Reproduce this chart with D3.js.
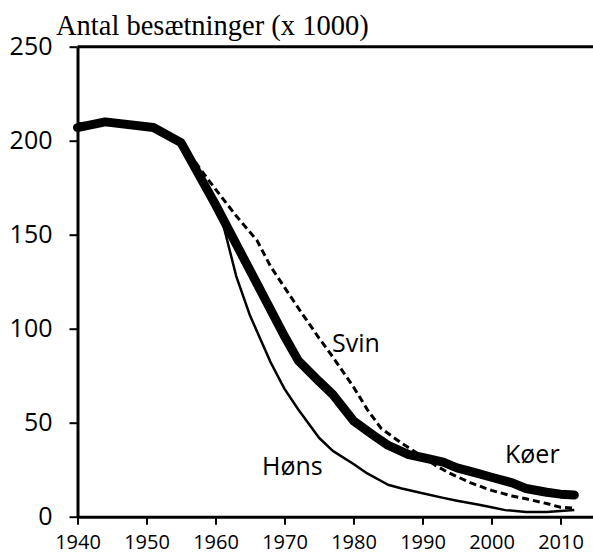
<!DOCTYPE html>
<html lang="da">
<head>
<meta charset="UTF-8">
<title>Antal besætninger</title>
<script src="https://d3js.org/d3.v7.min.js"></script>
<style>
  body { margin: 0; background: #fff; }
  svg { display: block; }
</style>
</head>
<body>
<svg id="chart" width="593" height="555"></svg>
<script>
// data (thousands of herds)
const koerYears = [1940, 1944, 1951, 1955, 1960, 1965, 1970, 1972, 1975, 1977, 1980, 1983, 1985, 1988, 1990, 1993, 1995, 1998, 2000, 2003, 2005, 2008, 2010, 2012];
const koerVals  = [207, 210, 207, 199, 166, 131, 96, 83, 72, 65, 51, 43, 38, 33, 31.5, 29, 26, 23, 21, 18, 15, 13, 12, 11.5];

const svinYears = [1940, 1944, 1951, 1955, 1959, 1963, 1966, 1968, 1970, 1972, 1975, 1977, 1980, 1982, 1984, 1987, 1990, 1992, 1994, 1997, 2000, 2003, 2005, 2008, 2010, 2012];
const svinVals  = [209, 210, 207, 199, 179, 160, 147, 133, 122, 111, 95, 85, 69, 57, 47, 39, 32, 27, 23, 18, 14, 11, 9.5, 7, 5, 4.5];

const honsYears = [1940, 1944, 1951, 1955, 1960, 1961, 1963, 1965, 1968, 1970, 1972, 1975, 1977, 1980, 1982, 1985, 1987, 1990, 1993, 1995, 1998, 2000, 2002, 2005, 2008, 2010, 2012];
const honsVals  = [207, 210, 207, 199, 166, 157, 128, 107, 82, 68, 57, 42, 35, 28, 23, 17, 15, 12.5, 10, 8.5, 6.5, 5, 3.5, 2.5, 2.5, 3, 3.5];

const xTicks = [1940, 1950, 1960, 1970, 1980, 1990, 2000, 2010];
const yTicks = [0, 50, 100, 150, 200, 250];

const svg = d3.select("#chart");

const x = d3.scaleLinear().domain([1940, 2015]).range([77.5, 595]);
const y = d3.scaleLinear().domain([0, 250]).range([516.7, 46.7]);

const sans = "'Open Sans', 'Noto Sans', sans-serif";

// top frame line
svg.append("line")
    .attr("x1", x(1940)).attr("x2", 593)
    .attr("y1", y(250)).attr("y2", y(250))
    .attr("stroke", "#000").attr("stroke-width", 3);

// y axis
const yAxis = svg.append("g")
    .attr("transform", `translate(${x(1940)},0)`)
    .call(d3.axisLeft(y).tickValues(yTicks).tickSize(8).tickSizeOuter(0).tickPadding(17));
yAxis.select(".domain").attr("stroke-width", 3);
yAxis.selectAll(".tick line").attr("stroke-width", 2);
yAxis.selectAll("text")
    .attr("font-family", sans).attr("font-size", 25).attr("fill", "#000");

// x axis
const xAxis = svg.append("g")
    .attr("transform", `translate(0,${y(0)})`)
    .call(d3.axisBottom(x).tickValues(xTicks).tickFormat(d3.format("d")).tickSize(8).tickSizeOuter(0).tickPadding(10));
xAxis.select(".domain").attr("stroke-width", 3);
xAxis.selectAll(".tick line").attr("stroke-width", 2);
xAxis.selectAll("text")
    .attr("font-family", sans).attr("font-size", 20).attr("fill", "#000");

const line = d3.line()
    .x(d => x(d[0]))
    .y(d => y(d[1]));

svg.append("path")
    .datum(d3.zip(honsYears, honsVals))
    .attr("d", line)
    .attr("fill", "none").attr("stroke", "#000")
    .attr("stroke-width", 2.5).attr("stroke-linejoin", "round");

svg.append("path")
    .datum(d3.zip(svinYears, svinVals))
    .attr("d", line)
    .attr("fill", "none").attr("stroke", "#000")
    .attr("stroke-width", 3).attr("stroke-dasharray", "7,4");

svg.append("path")
    .datum(d3.zip(koerYears, koerVals))
    .attr("d", line)
    .attr("fill", "none").attr("stroke", "#000")
    .attr("stroke-width", 9).attr("stroke-linejoin", "round").attr("stroke-linecap", "round");

// series labels
const labels = [
    { text: "Svin", x: 332, y: 352 },
    { text: "Høns", x: 262, y: 475 },
    { text: "Køer", x: 505, y: 463 }
];
svg.selectAll("text.lbl")
    .data(labels)
    .enter().append("text")
    .attr("class", "lbl")
    .attr("x", d => d.x).attr("y", d => d.y)
    .attr("font-family", sans).attr("font-size", 25)
    .text(d => d.text);

// title
svg.append("text")
    .attr("x", 56).attr("y", 35)
    .attr("font-family", "'Liberation Serif', 'Times New Roman', serif")
    .attr("font-size", 28.5)
    .text("Antal besætninger (x 1000)");
</script>
</body>
</html>
